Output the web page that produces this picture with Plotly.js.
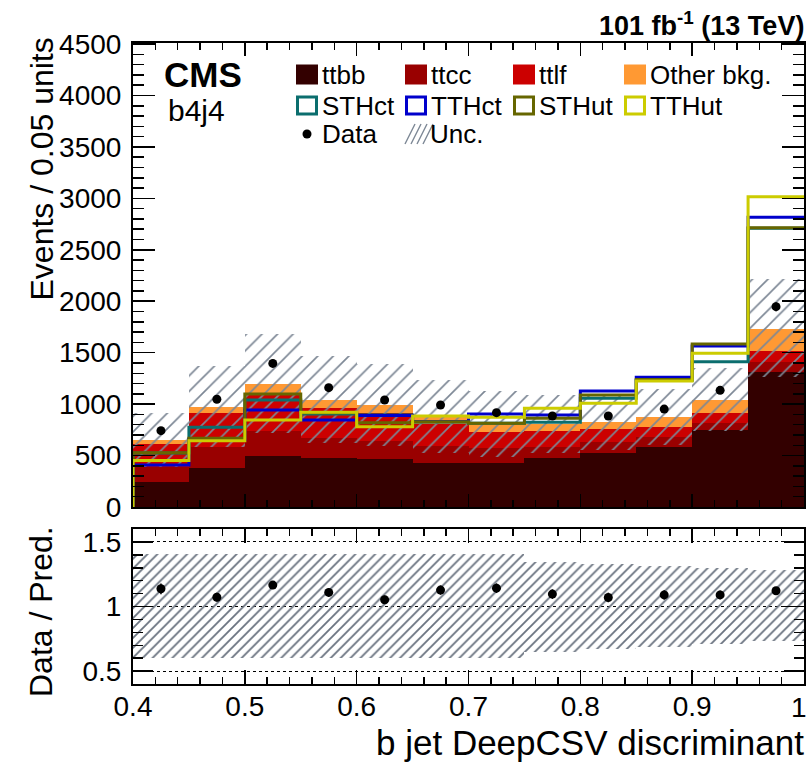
<!DOCTYPE html>
<html>
<head>
<meta charset="utf-8">
<script src="https://cdn.plot.ly/plotly-3.0.1.min.js"></script>
<style>
  html, body { margin: 0; padding: 0; background: #ffffff; }
  #chart { width: 807px; height: 764px; }
</style>
</head>
<body>
<div id="chart"></div>
<script>
// ---------------- data ----------------
const binCenters = [0.425, 0.475, 0.525, 0.575, 0.625, 0.675, 0.725, 0.775, 0.825, 0.875, 0.925, 0.975];
const binEdges   = [0.40, 0.45, 0.50, 0.55, 0.60, 0.65, 0.70, 0.75, 0.80, 0.85, 0.90, 0.95, 1.00];

const ttbb  = [246, 376, 496, 473, 463, 431, 428, 473, 528, 586, 748, 1315];
const ttcc  = [140, 210, 243, 202, 182, 162, 142, 113, 107,  98,  65,   97];
const ttlf  = [226, 324, 366, 284, 265, 212, 162, 149, 120,  97, 104,  107];
const other = [ 39,  59,  90,  81,  78,  73,  71,  72,  71,  92, 123,  216];

const sthct = [525, 774, 1040, 905, 894, 826, 815, 823, 1056, 1230, 1412, 2710];
const tthct = [408, 655,  943, 846, 890, 830, 904, 894, 1127, 1260, 1565, 2816];
const sthut = [528, 668, 1098, 915, 820, 829, 813, 862, 1089, 1240, 1584, 2715];
const tthut = [452, 645,  846, 920, 781, 884, 872, 959, 1008, 1225, 1494, 3016];

const data      = [742, 1047, 1396, 1160, 1040, 991, 917, 884, 884, 952, 1134, 1947];
const dataErr   = [27, 32, 37, 34, 32, 31, 30, 30, 30, 31, 34, 44];
const ratio     = [1.137, 1.072, 1.166, 1.109, 1.052, 1.127, 1.142, 1.096, 1.070, 1.090, 1.090, 1.122];
const ratioErr  = [0.042, 0.034, 0.031, 0.033, 0.033, 0.036, 0.037, 0.037, 0.037, 0.035, 0.033, 0.025];
const uncUp     = [1.41, 1.41, 1.41, 1.41, 1.41, 1.41, 1.41, 1.345, 1.33, 1.315, 1.30, 1.28];
const uncDn     = [0.60, 0.60, 0.60, 0.60, 0.60, 0.60, 0.60, 0.65, 0.67, 0.69, 0.71, 0.73];

const xTickVals = [0.4, 0.5, 0.6, 0.7, 0.8, 0.9, 1.0];
const xTickText = ['0.4', '0.5', '0.6', '0.7', '0.8', '0.9', '1'];
const rTickVals = [0.5, 1, 1.5];
const rTickText = ['0.5', '1', '1.5'];

// ---------------- styles ----------------
const FONT = 'Liberation Sans, Arial, Helvetica, sans-serif';
const C = {
  ttbb: '#330000', ttcc: '#990000', ttlf: '#cc0000', other: '#ff9933',
  sthct: '#0b6e6e', tthct: '#0000cc', sthut: '#666600', tthut: '#cccc00',
  hatch: '#7d8795', hatchR: '#6a7380'
};

// derived
const pred = binCenters.map((_, i) => ttbb[i] + ttcc[i] + ttlf[i] + other[i]);
const uncBase = pred.map((p, i) => p * uncDn[i]);
const uncHeight = pred.map((p, i) => p * (uncUp[i] - uncDn[i]));
const rBase = uncDn.slice();
const rHeight = uncUp.map((u, i) => u - uncDn[i]);

function stepX() { return [binEdges[0]].concat(binEdges.slice(0, binEdges.length - 1)).concat([binEdges[binEdges.length - 1]]); }
function stepY(v) { return [0].concat(v).concat([v[v.length - 1]]); }

function bkg(name, vals, color) {
  return { type: 'bar', name: name, x: binCenters, y: vals, width: 0.05,
           marker: { color: color, line: { width: 0 } }, xaxis: 'x', yaxis: 'y', hoverinfo: 'skip' };
}
function sig(name, vals, color) {
  return { type: 'scatter', mode: 'lines', name: name, x: stepX(), y: stepY(vals),
           line: { shape: 'hv', color: color, width: 3 }, xaxis: 'x', yaxis: 'y', hoverinfo: 'skip' };
}

const traces = [
  bkg('ttbb', ttbb, C.ttbb),
  bkg('ttcc', ttcc, C.ttcc),
  bkg('ttlf', ttlf, C.ttlf),
  bkg('Other bkg.', other, C.other),
  { type: 'bar', name: 'Unc.', x: binCenters, y: uncHeight, base: uncBase, width: 0.05,
    marker: { color: 'rgba(0,0,0,0)', line: { width: 0 },
              pattern: { shape: '/', fgcolor: C.hatch, bgcolor: 'rgba(0,0,0,0)', size: 11, solidity: 0.15 } },
    xaxis: 'x', yaxis: 'y', hoverinfo: 'skip' },
  sig('STHct', sthct, C.sthct),
  sig('TTHct', tthct, C.tthct),
  sig('STHut', sthut, C.sthut),
  sig('TTHut', tthut, C.tthut),
  { type: 'scatter', mode: 'markers', name: 'Data', x: binCenters, y: data,
    error_y: { type: 'data', array: dataErr, color: 'black', thickness: 1.5, width: 0 },
    marker: { color: 'black', size: 9 }, xaxis: 'x', yaxis: 'y', hoverinfo: 'skip' },
  // ratio panel
  { type: 'bar', name: 'Unc. ratio', x: binCenters, y: rHeight, base: rBase, width: 0.05,
    marker: { color: 'rgba(0,0,0,0)', line: { width: 0 },
              pattern: { shape: '/', fgcolor: C.hatchR, bgcolor: 'rgba(0,0,0,0)', size: 7, solidity: 0.26 } },
    xaxis: 'x2', yaxis: 'y2', hoverinfo: 'skip' },
  { type: 'scatter', mode: 'markers', name: 'Ratio', x: binCenters, y: ratio,
    error_y: { type: 'data', array: ratioErr, color: 'black', thickness: 1.5, width: 0 },
    marker: { color: 'black', size: 9 }, xaxis: 'x2', yaxis: 'y2', hoverinfo: 'skip' }
];

// ---------------- layout helpers (pixel -> paper) ----------------
const L = 133, R = 804, T = 43, B = 684;
const px = x => (x - L) / (R - L);
const py = y => (B - y) / (B - T);

const annotations = [];
const shapes = [];
function txt(text, x, y, size, opts) {
  annotations.push(Object.assign({
    xref: 'paper', yref: 'paper', x: px(x), y: py(y), text: text, showarrow: false,
    xanchor: 'left', yanchor: 'middle', font: { family: FONT, size: size, color: 'black' }
  }, opts || {}));
}

txt('<b>CMS</b>', 162, 74, 35);
txt('b4j4', 166, 111, 30);
txt('<b>101 fb<sup>-1</sup> (13 TeV)</b>', 806, 24, 27, { xanchor: 'right' });
txt('Events / 0.05 units', 41, 36, 32, { xanchor: 'center', yanchor: 'top', textangle: -90 });
txt('Data / Pred.', 41, 612, 32, { xanchor: 'center', yanchor: 'middle', textangle: -90 });
txt('b jet DeepCSV discriminant', 806, 742, 35, { xanchor: 'right' });
// last x tick label, shifted left so it stays inside the picture (as in the reference)
txt(xTickText[xTickText.length - 1], 809, 707, 28, { xanchor: 'right' });

// legend
const legRows = [74.5, 105.5, 134];
const legCols = [296, 405, 513, 624];
const legFill = [['ttbb', C.ttbb], ['ttcc', C.ttcc], ['ttlf', C.ttlf], ['Other bkg.', C.other]];
const legLine = [['STHct', C.sthct], ['TTHct', C.tthct], ['STHut', C.sthut], ['TTHut', C.tthut]];
legFill.forEach((e, i) => {
  const x0 = legCols[i], yc = legRows[0];
  shapes.push({ type: 'rect', xref: 'paper', yref: 'paper', x0: px(x0), x1: px(x0 + 22), y0: py(yc + 10), y1: py(yc - 10),
                fillcolor: e[1], line: { width: 0 } });
  txt(e[0], x0 + 24, yc, 26);
});
legLine.forEach((e, i) => {
  const x0 = legCols[i], yc = legRows[1];
  shapes.push({ type: 'rect', xref: 'paper', yref: 'paper', x0: px(x0 + 1.5), x1: px(x0 + 20.5), y0: py(yc + 8.5), y1: py(yc - 8.5),
                fillcolor: 'white', line: { width: 3, color: e[1] } });
  txt(e[0], x0 + 24, yc, 26);
});
// Data
shapes.push({ type: 'circle', xref: 'paper', yref: 'paper', x0: px(302.5), x1: px(311.5), y0: py(138.5), y1: py(129.5),
              fillcolor: 'black', line: { width: 0 } });
txt('Data', 320, legRows[2], 26);
// Unc. hatch box
for (let k = 0; k < 4; k++) {
  const xs = 405 + k * 6;
  shapes.push({ type: 'line', xref: 'paper', yref: 'paper', x0: px(xs), y0: py(144), x1: px(xs + 10), y1: py(124),
                line: { color: C.hatch, width: 1.4 } });
}
txt('Unc.', 428, legRows[2], 26);

const axCommon = {
  showline: true, linecolor: 'black', linewidth: 2, mirror: 'allticks',
  ticks: 'inside', tickcolor: 'black', tickwidth: 1.5,
  showgrid: false, zeroline: false, fixedrange: true,
  tickfont: { family: FONT, size: 28, color: 'black' }
};

const layout = {
  width: 807, height: 764,
  margin: { l: L, r: 807 - R, t: T, b: 764 - B, pad: 0 },
  paper_bgcolor: 'white', plot_bgcolor: 'white',
  showlegend: false, barmode: 'stack', bargap: 0,
  font: { family: FONT, color: 'black' },
  xaxis: Object.assign({}, axCommon, {
    domain: [0, 1], anchor: 'y', range: [0.4, 1.0], tickvals: xTickVals, ticktext: xTickText,
    showticklabels: false, ticklen: 13,
    minor: { ticks: 'inside', ticklen: 7, dtick: 0.02, tick0: 0.4, tickcolor: 'black', tickwidth: 1.5, showgrid: false }
  }),
  yaxis: Object.assign({}, axCommon, {
    domain: [(B - 507) / (B - T), 1], anchor: 'x', range: [0, 4510], dtick: 500, tick0: 0, ticklen: 22,
    ticklabelstandoff: 4,
    minor: { ticks: 'inside', ticklen: 11, dtick: 100, tick0: 0, tickcolor: 'black', tickwidth: 1.5, showgrid: false }
  }),
  xaxis2: Object.assign({}, axCommon, {
    domain: [0, 1], anchor: 'y2', range: [0.4, 1.0], tickvals: xTickVals,
    ticktext: xTickText.slice(0, xTickText.length - 1).concat(['']),
    ticklen: 14, ticklabelstandoff: -4,
    minor: { ticks: 'inside', ticklen: 7, dtick: 0.02, tick0: 0.4, tickcolor: 'black', tickwidth: 1.5, showgrid: false }
  }),
  yaxis2: Object.assign({}, axCommon, {
    domain: [0, (B - 529) / (B - T)], anchor: 'x2', range: [0.4, 1.6], tickvals: rTickVals, ticktext: rTickText,
    ticklen: 20, ticklabelstandoff: 4,
    showgrid: true, gridcolor: 'black', griddash: 'dot', gridwidth: 1,
    minor: { ticks: 'inside', ticklen: 10, dtick: 0.1, tick0: 0.4, tickcolor: 'black', tickwidth: 1.5, showgrid: false }
  }),
  annotations: annotations,
  shapes: shapes
};

Plotly.newPlot('chart', traces, layout, { displayModeBar: false, staticPlot: true });
</script>
</body>
</html>
